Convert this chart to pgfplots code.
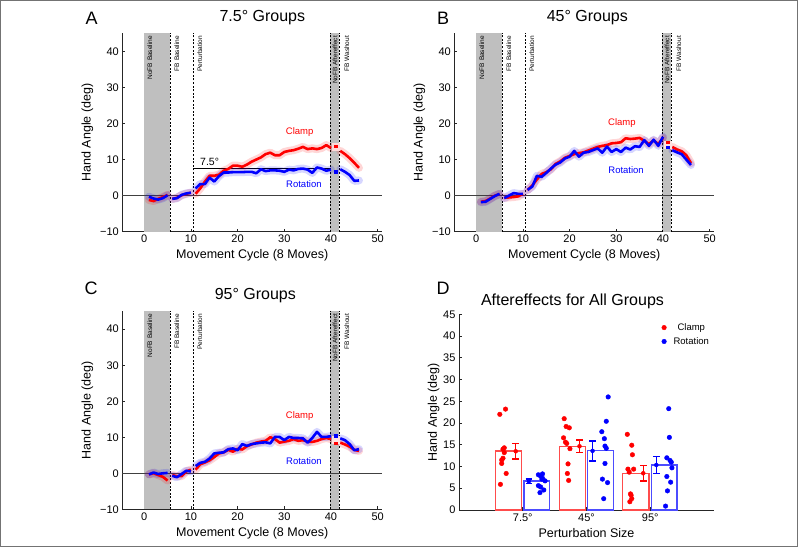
\documentclass[border=0pt]{standalone}
\usepackage{fontspec}
\setmainfont{Liberation Sans}
\usepackage{pgfplots}
\pgfplotsset{compat=1.18}
\usepackage{pgfplotstable}

\pgfplotstableread{
x c r
1 -1.2 -0.3
2 -1.5 -0.8
3 -0.9 -1.1
4 -0.4 -0.7
5 0.2 0.1
5.5 nan nan
6 -0.9 -0.9
7 -0.6 -0.7
8 0.1 0.2
9 0.5 0.6
10 0.8 0.8
10.5 nan nan
11 0.5 2.0
12 2.0 3.2
13 3.9 3.2
14 5.5 5.0
15 5.5 3.9
16 5.8 5.4
17 6.9 6.4
18 7.4 6.4
19 8.3 6.5
20 8.3 6.5
21 8.0 6.5
22 8.6 6.6
23 9.4 6.6
24 10.0 6.2
25 10.6 7.3
26 11.5 6.8
27 11.9 7.0
28 11.2 7.0
29 11.2 6.9
30 12.1 6.6
31 12.4 7.2
32 12.6 7.0
33 13.0 7.4
34 13.5 7.5
35 12.9 7.2
36 13.1 6.3
37 12.9 7.8
38 13.2 7.5
39 14.0 6.9
40 13.2 7.2
40.5 nan nan
42 12.4 7.3
43 11.5 6.6
44 10.4 5.7
45 9.1 4.1
46 7.7 4.2
}\dataA

\pgfplotstableread{
x c r
1 -1.7 -1.8
2 -1.5 -1.7
3 -0.8 -0.9
4 0.0 -0.1
5 0.4 0.5
5.5 nan nan
6 -0.6 -0.7
7 -0.5 0.0
8 -0.4 0.7
9 -0.2 0.5
10 0.5 0.5
10.5 nan nan
11 1.5 1.6
12 2.8 2.5
13 4.5 5.5
14 6.0 5.2
15 6.5 6.3
16 7.3 7.5
17 8.8 8.6
18 9.5 9.2
19 10.5 10.3
20 11.0 10.8
21 11.5 12.4
22 11.8 10.8
23 12.0 11.9
24 12.5 12.1
25 13.0 12.6
26 13.5 13.1
27 13.8 11.9
28 14.0 13.6
29 14.5 12.1
30 14.6 12.9
31 14.8 12.1
32 15.9 13.3
33 15.7 12.8
34 15.8 13.7
35 16.0 13.5
36 15.2 15.4
37 14.3 13.8
38 15.3 15.5
39 14.3 13.8
40 16.0 16.3
40.5 nan nan
42 13.5 12.6
43 12.8 12.0
44 12.3 11.5
45 11.2 10.0
46 9.0 8.5
}\dataB

\pgfplotstableread{
x c r
1 -0.3 -0.3
2 0.0 0.2
3 -0.5 -0.2
4 -1.0 0.0
5 -2.0 0.1
5.5 nan nan
6 -0.5 -0.7
7 -0.8 -1.1
8 -0.8 -0.2
9 0.5 0.7
10 1.0 0.5
10.5 nan nan
11 1.0 2.0
12 2.5 2.9
13 3.0 3.2
14 3.6 4.1
15 4.5 5.5
16 5.5 5.7
17 5.8 5.8
18 6.5 6.7
19 6.0 6.9
20 6.8 6.4
21 6.6 8.1
22 7.5 7.6
23 8.0 8.1
24 8.5 8.3
25 8.8 8.5
26 9.0 8.6
27 10.0 8.3
28 9.5 10.1
29 8.5 10.1
30 8.8 9.2
31 9.0 10.1
32 9.5 9.8
33 9.0 9.8
34 9.2 9.7
35 8.8 8.5
36 8.7 9.8
37 9.0 11.5
38 9.5 10.1
39 9.8 10.1
40 9.5 10.3
40.5 nan nan
42 8.5 9.7
43 8.0 9.2
44 7.4 8.1
45 6.5 6.4
46 6.2 6.7
}\dataC

\pgfplotsset{
  lineaxis/.style={
    scale only axis, width=260pt, height=198.4pt, anchor=south west,
    xmin=-4.7, xmax=51, ymin=-10, ymax=45,
    axis x line=bottom, axis y line=left, axis line style={-, black!85, line width=0.6pt},
    xtick={0,10,...,50}, ytick={-10,0,...,40}, yticklabels={−10,0,10,20,30,40},
    tick align=inside, major tick length=3pt, tick style={black!85, line width=0.6pt},
    ticklabel style={font=\fontsize{11}{12}\selectfont},
    xlabel={Movement Cycle (8 Moves)}, ylabel={Hand Angle (deg)},
    label style={font=\fontsize{12.5}{14}\selectfont},
    /pgf/number format/assume math mode=true,
    unbounded coords=jump, clip=false,
  },
}
\tikzset{
  band/.style={line width=8pt, line join=round, line cap=round, draw opacity=0.16},
  mainline/.style={line width=2.6pt, line join=round},
  phaselab/.style={rotate=90, anchor=east, inner sep=0pt, font=\fontsize{6.5}{6.5}\selectfont},
}

\newcommand{\phases}{%
  \fill[black!25] (axis cs:0,-10) rectangle (axis cs:5.5,45);
  \fill[black!25] (axis cs:39.9,-10) rectangle (axis cs:41.8,45);
  \draw[dashed, black, line width=0.6pt, dash pattern=on 2pt off 1.6pt] (axis cs:5.5,-10) -- (axis cs:5.5,45);
  \draw[dashed, black, line width=0.6pt, dash pattern=on 2pt off 1.6pt] (axis cs:10.5,-10) -- (axis cs:10.5,45);
  \draw[dashed, black, line width=0.6pt, dash pattern=on 2pt off 1.6pt] (axis cs:39.9,-10) -- (axis cs:39.9,45);
  \draw[dashed, black, line width=0.6pt, dash pattern=on 2pt off 1.6pt] (axis cs:41.8,-10) -- (axis cs:41.8,45);
  \draw[black!75, line width=0.6pt] (axis cs:-4.7,0) -- (axis cs:51,0);
}
\newcommand{\phaselabels}{%
  \node[phaselab] at (axis cs:1.2,44.3) {NoFB Baseline};
  \node[phaselab] at (axis cs:7.0,44.3) {FB Baseline};
  \node[phaselab] at (axis cs:11.9,44.3) {Perturbation};
  \node[phaselab] at (axis cs:40.9,44.3) {NoFB Aftereffect};
  \node[phaselab] at (axis cs:43.4,44.3) {FB Washout};
}

\begin{document}
\begin{tikzpicture}
\useasboundingbox (0pt,0pt) rectangle (800pt,551pt);
\draw[black!55, line width=0.8pt] (0.5pt,5pt) rectangle (797pt,550.5pt);

% ---------------- Panel A
\begin{axis}[lineaxis, at={(122.3pt,319.3pt)}]
\phases
\draw[black, line width=0.8pt] (axis cs:10.5,7.5) -- (axis cs:40,7.5);
\node[anchor=base, font=\fontsize{10.5}{12}\selectfont] at (axis cs:14,8.3) {7.5°};
\addplot[red, band] table[x=x, y=c] {\dataA};
\addplot[blue, band] table[x=x, y=r] {\dataA};
\addplot[red, mainline] table[x=x, y=c] {\dataA};
\addplot[blue, mainline] table[x=x, y=r] {\dataA};
\addplot[only marks, mark=square*, mark size=3.5pt, red!15, draw=none] coordinates {(41,13.7)};
\addplot[only marks, mark=square*, mark size=1.2pt, red] coordinates {(41,13.7)};
\addplot[only marks, mark=square*, mark size=1.2pt, blue] coordinates {(41,6.6)};
\node[red, font=\fontsize{9.5}{11}\selectfont] at (axis cs:33.3,17.5) {Clamp};
\node[blue, font=\fontsize{9.5}{11}\selectfont] at (axis cs:34.2,3.1) {Rotation};
\phaselabels
\node[anchor=base, yshift=11.3pt, font=\fontsize{16}{18}\selectfont] at (axis cs:25.3,45) {7.5° Groups};
\end{axis}
\node[anchor=base, font=\fontsize{18}{20}\selectfont] at (91.7pt,526.7pt) {A};

% ---------------- Panel B
\begin{axis}[lineaxis, at={(454.3pt,319.3pt)}]
\phases
\addplot[red, band] table[x=x, y=c] {\dataB};
\addplot[blue, band] table[x=x, y=r] {\dataB};
\addplot[red, mainline] table[x=x, y=c] {\dataB};
\addplot[blue, mainline] table[x=x, y=r] {\dataB};
\addplot[only marks, mark=square*, mark size=3.5pt, red!12, draw=none] coordinates {(41,14.2)};
\addplot[only marks, mark=square*, mark size=1.2pt, red] coordinates {(41,14.75)};
\addplot[only marks, mark=square*, mark size=1.2pt, blue] coordinates {(41,13.5)};
\node[red, font=\fontsize{9.5}{11}\selectfont] at (axis cs:31.2,20.1) {Clamp};
\node[blue, font=\fontsize{9.5}{11}\selectfont] at (axis cs:32.1,7.1) {Rotation};
\phaselabels
\node[anchor=base, yshift=11.3pt, font=\fontsize{16}{18}\selectfont] at (axis cs:23.8,45) {45° Groups};
\end{axis}
\node[anchor=base, font=\fontsize{18}{20}\selectfont] at (443pt,526.7pt) {B};

% ---------------- Panel C
\begin{axis}[lineaxis, at={(122.3pt,41.7pt)}, height=198.1pt]
\phases
\addplot[red, band] table[x=x, y=c] {\dataC};
\addplot[blue, band] table[x=x, y=r] {\dataC};
\addplot[red, mainline] table[x=x, y=c] {\dataC};
\addplot[blue, mainline] table[x=x, y=r] {\dataC};
\addplot[only marks, mark=square*, mark size=3.5pt, red!12, draw=none] coordinates {(41,9.3)};
\addplot[only marks, mark=square*, mark size=1.2pt, red] coordinates {(41,8.3)};
\addplot[only marks, mark=square*, mark size=1.2pt, blue] coordinates {(41,10.4)};
\node[red, font=\fontsize{9.5}{11}\selectfont] at (axis cs:33.3,15.9) {Clamp};
\node[blue, font=\fontsize{9.5}{11}\selectfont] at (axis cs:34.2,3.4) {Rotation};
\phaselabels
\node[anchor=base, yshift=12pt, font=\fontsize{16}{18}\selectfont] at (axis cs:23.8,45) {95° Groups};
\end{axis}
\node[anchor=base, font=\fontsize{18}{20}\selectfont] at (91pt,256pt) {C};

% ---------------- Panel D
\begin{axis}[scale only axis, width=255pt, height=195.7pt, anchor=south west, at={(459pt,41pt)},
    xmin=0, xmax=4, ymin=0, ymax=45,
    axis x line=bottom, axis y line=left, axis line style={-, black!85, line width=0.6pt},
    xtick={1,2,3}, xticklabels={7.5°,45°,95°}, ytick={0,5,...,45},
    tick align=inside, major tick length=3pt, tick style={black!85, line width=0.6pt},
    ticklabel style={font=\fontsize{11}{12}\selectfont},
    xlabel={Perturbation Size}, ylabel={Hand Angle (deg)}, ylabel shift=-3pt,
    label style={font=\fontsize{12.5}{14}\selectfont},
    /pgf/number format/assume math mode=true, clip=false,
    legend image code/.code={\draw[#1] plot coordinates {(0pt,0pt)}; \path[draw=none, fill=none] (-3pt,0pt) -- (7.5pt,0pt);},
    legend style={at={(0.78,0.975)}, anchor=north west, draw=none, fill=none,
      font=\fontsize{9.5}{11}\selectfont, row sep=1.5pt},
  ]
\addplot[ybar, bar width=0.41, bar shift=0pt, draw=red!70, fill=white, line width=1.1pt, forget plot]
  coordinates {(0.775,13.57) (1.775,14.7) (2.775,8.4)};
\addplot[ybar, bar width=0.40, bar shift=0pt, draw=blue!70, fill=white, line width=1.1pt, forget plot]
  coordinates {(1.22,6.67) (2.22,13.65) (3.22,10.35)};
\addplot[red, only marks, mark=none, forget plot,
  error bars/.cd, y dir=both, y explicit,
  error bar style={red, line width=1.3pt},
  error mark options={rotate=90, red, mark size=3.3pt, line width=1.3pt}]
  coordinates {(0.89,13.5) +- (0,1.8) (1.89,14.65) +- (0,1.45) (2.89,8.45) +- (0,1.75)};
\addplot[blue, only marks, mark=none, forget plot,
  error bars/.cd, y dir=both, y explicit,
  error bar style={blue, line width=1.3pt},
  error mark options={rotate=90, blue, mark size=3.3pt, line width=1.3pt}]
  coordinates {(1.095,6.6) +- (0,0.5) (2.095,13.6) +- (0,2.3) (3.095,10.35) +- (0,1.95)};
\addplot[only marks, mark=*, mark size=2.3pt, red] coordinates {
  (0.64,22.0) (0.73,23.2) (0.71,14.3) (0.69,14.0) (0.71,13.2) (0.69,11.9) (0.67,11.5) (0.67,10.7) (0.74,8.4) (0.65,5.9)
  (1.65,21.0) (1.68,19.2) (1.73,18.9) (1.64,16.6) (1.67,15.6) (1.69,15.3) (1.74,14.1) (1.71,10.6) (1.70,8.4) (1.72,6.8)
  (2.64,17.4) (2.71,14.9) (2.72,12.7) (2.65,9.4) (2.74,9.4) (2.67,8.7) (2.69,3.7) (2.70,3.4) (2.71,2.6) (2.68,1.9)};
\addlegendentry{Clamp}
\addplot[only marks, mark=*, mark size=2.3pt, blue] coordinates {
  (1.245,8.1) (1.31,8.3) (1.28,7.8) (1.31,7.3) (1.30,7.1) (1.35,6.7) (1.245,5.6) (1.28,5.3) (1.33,4.6) (1.27,4.0)
  (2.34,26.0) (2.31,20.4) (2.24,18.0) (2.28,16.4) (2.29,14.7) (2.31,14.2) (2.29,10.7) (2.25,7.1) (2.33,6.3) (2.27,2.6)
  (3.29,23.3) (3.30,16.7) (3.26,12.0) (3.31,11.4) (3.33,11.0) (3.34,9.7) (3.26,7.7) (3.32,6.4) (3.27,4.4) (3.24,0.9)};
\addlegendentry{Rotation}
\node[anchor=base, yshift=9.3pt, font=\fontsize{16}{18}\selectfont] at (axis cs:1.78,45) {Aftereffects for All Groups};
\end{axis}
\node[anchor=base, font=\fontsize{18}{20}\selectfont] at (443pt,256pt) {D};
\end{tikzpicture}
\end{document}
